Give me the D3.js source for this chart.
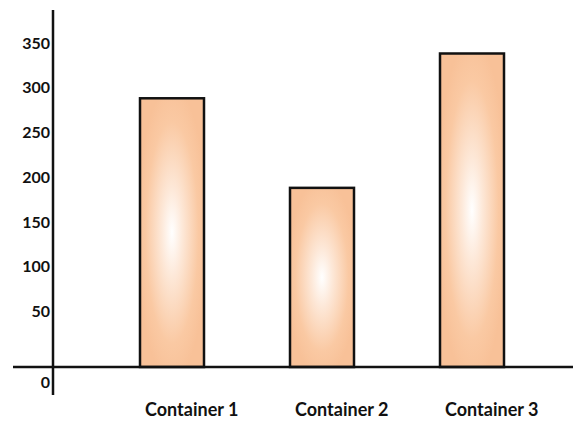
<!DOCTYPE html>
<html>
<head>
<meta charset="utf-8">
<script src="https://cdn.jsdelivr.net/npm/d3@7"></script>
<style>
  html, body { margin: 0; padding: 0; background: #fff; }
  svg { display: block; }
  text { font-family: Lato, "Open Sans", sans-serif; font-weight: bold; fill: #111; }
</style>
</head>
<body>
<svg id="chart" width="575" height="421"></svg>
<script>
// Container volumes
const categories = ["Container 1", "Container 2", "Container 3"];
const values = [300, 200, 350];
const tickValues = [50, 100, 150, 200, 250, 300, 350];

const svg = d3.select("#chart");

const x = d3.scalePoint()
  .domain(categories)
  .range([172, 472]);

const y = d3.scaleLinear()
  .domain([0, 350])
  .range([367, 53.5]);

const barWidth = 64;

// Peach-to-white glow inside each bar
const defs = svg.append("defs");
const grad = defs.append("radialGradient")
  .attr("id", "barGlow")
  .attr("cx", 0.5).attr("cy", 0.5).attr("r", 0.55);
grad.append("stop").attr("offset", "0%").attr("stop-color", "#ffffff");
grad.append("stop").attr("offset", "30%").attr("stop-color", "#fde8d8");
grad.append("stop").attr("offset", "75%").attr("stop-color", "#fac9a3");
grad.append("stop").attr("offset", "100%").attr("stop-color", "#f8c198");

// Bars
svg.append("g").selectAll("rect")
  .data(values)
  .join("rect")
  .attr("x", (d, i) => x(categories[i]) - barWidth / 2)
  .attr("y", d => y(d))
  .attr("width", barWidth)
  .attr("height", d => y(0) - y(d))
  .attr("fill", "url(#barGlow)")
  .attr("stroke", "#111")
  .attr("stroke-width", 2.5);

// Axis lines
svg.append("line")
  .attr("x1", 53).attr("x2", 53)
  .attr("y1", 10).attr("y2", 395)
  .attr("stroke", "#111").attr("stroke-width", 2.5);
svg.append("line")
  .attr("x1", 13).attr("x2", 573)
  .attr("y1", y(0)).attr("y2", y(0))
  .attr("stroke", "#111").attr("stroke-width", 2.5);

// Value labels, set just above each tick level
svg.append("g").selectAll("text")
  .data(tickValues)
  .join("text")
  .attr("x", 50)
  .attr("y", d => y(d) - 5)
  .attr("text-anchor", "end")
  .attr("font-size", 16)
  .text(d => d);

svg.append("text")
  .attr("x", 50)
  .attr("y", y(0) + 21)
  .attr("text-anchor", "end")
  .attr("font-size", 16)
  .text(0);

// Category labels
svg.append("g").selectAll("text")
  .data(categories)
  .join("text")
  .attr("x", d => x(d) - barWidth / 2 + 5)
  .attr("y", 416)
  .attr("font-size", 18)
  .text(d => d);
</script>
</body>
</html>
